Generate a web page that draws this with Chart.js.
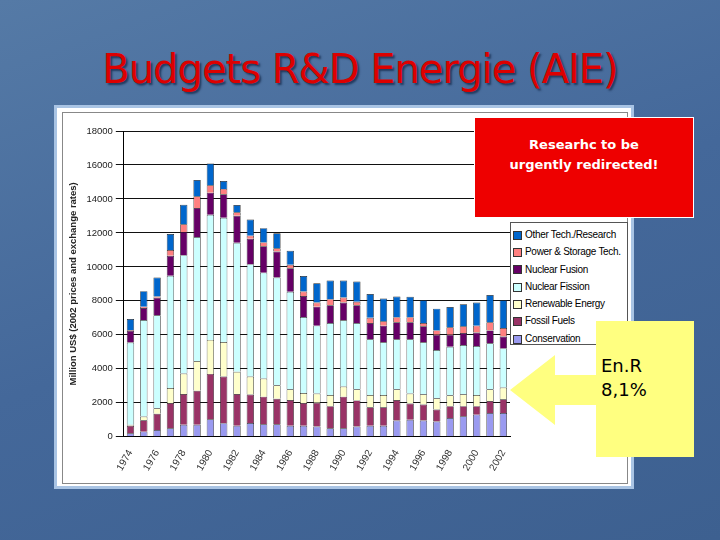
<!DOCTYPE html>
<html><head><meta charset="utf-8">
<script src="https://cdn.jsdelivr.net/npm/chart.js@4"></script>
<style>
body{margin:0;width:720px;height:540px;overflow:hidden;background:linear-gradient(160deg,#557aa6,#44689a 50%,#3d6090);font-family:"Liberation Sans",Arial,sans-serif;position:relative}
#title{position:absolute;left:0;width:720px;top:46px;text-align:center;color:#dd0000;font-family:"DejaVu Sans";font-size:40px;text-shadow:2px 2px 2px #223a5e;letter-spacing:-1px}
#panel{position:absolute;left:54px;top:105px;width:580px;height:384px;background:#fff;border:3px solid #a9c4e4;box-sizing:border-box}
#inner{position:absolute;left:62px;top:112px;width:566px;height:372px;border:1px solid #888;box-sizing:border-box}
#wrap{position:absolute;left:62px;top:112px;width:566px;height:372px}
#legend{position:absolute;left:510px;top:222px;width:118px;height:123px;border:1px solid #555;background:#fff;font-size:10px;box-sizing:border-box;padding:3px 2px}
#legend div{height:17.3px;line-height:17px;white-space:nowrap;letter-spacing:-0.3px}
#legend span{display:inline-block;width:7px;height:7px;border:1px solid #333;margin-right:3px;vertical-align:middle}
#red{position:absolute;left:474px;top:117px;width:220px;height:101px;background:#ee0000;border:1px solid #fff;box-sizing:border-box;color:#fff;font-family:"DejaVu Sans";font-weight:bold;font-size:13px;text-align:center;padding-top:17px;line-height:20px}
#yel{position:absolute;left:596px;top:321px;width:98px;height:136px;background:#ffff80;box-sizing:border-box;font-family:"DejaVu Sans";font-size:18px;padding:33px 0 0 5px;line-height:24px}
</style></head><body>
<div id="title">Budgets R&amp;D Energie (AIE)</div>
<div id="panel"></div>
<div id="inner"></div>
<div id="wrap"><canvas id="c"></canvas></div>
<div id="legend"></div>
<div id="red">Researhc to be<br>urgently redirected!</div>
<svg style="position:absolute;left:0;top:0" width="720" height="540"><polygon points="510,390 555,355 555,375 600,375 600,405 555,405 555,425" fill="#ffff80"/></svg>
<div id="yel">En.R<br>8,1%</div>
<script>
const years=[];for(let y=1974;y<=2002;y++)years.push(String(y));
const conservation=[200,300,400,500,700,700,1030,800,650,810,730,730,650,650,600,500,500,600,640,640,960,1000,960,900,1100,1200,1300,1400,1400];
const fossil=[450,670,950,1480,1810,2010,2670,2740,1860,1680,1630,1510,1510,1330,1400,1300,1860,1540,1100,1100,1200,960,940,700,700,600,500,700,800];
const renewable=[50,220,330,890,1210,1750,2000,2040,1310,1050,1070,790,630,590,540,660,600,660,720,720,640,580,600,660,640,700,660,700,700];
const fission=[4850,5680,5470,6610,6970,7300,7370,7310,7600,6620,6230,6340,5740,4480,4000,4240,3900,3900,3280,3100,2940,3200,3060,2840,2860,2900,2880,2700,2300];
const fusion=[690,710,1030,1170,1370,1700,1300,1390,1590,1500,1550,1540,1390,1230,1120,1040,1040,1040,960,980,1000,1000,940,900,700,700,800,760,700];
const power=[40,80,80,340,450,700,440,310,200,180,230,180,200,270,240,360,300,200,300,260,300,300,200,260,440,400,400,480,500];
const other=[650,910,1110,950,1150,950,1270,460,430,950,840,890,830,910,1140,1100,1000,1200,1400,1340,1220,1200,1340,1280,1200,1300,1360,1600,1640];
const series=[["Conservation",conservation,"#9a9af0"],["Fossil Fuels",fossil,"#993366"],["Renewable Energy",renewable,"#ffffcc"],["Nuclear Fission",fission,"#ccffff"],["Nuclear Fusion",fusion,"#660066"],["Power & Storage Tech.",power,"#ff8080"],["Other Tech./Research",other,"#0066cc"]];
new Chart(document.getElementById('c'),{type:'bar',
data:{labels:years,datasets:series.map(s=>({label:s[0],data:s[1],backgroundColor:s[2],borderColor:'#222',borderWidth:0.7,barPercentage:0.55,categoryPercentage:1}))},
options:{responsive:true,maintainAspectRatio:false,animation:false,
layout:{padding:{top:19,right:118,left:2,bottom:8}},
plugins:{legend:{display:false},tooltip:{enabled:false}},
scales:{x:{stacked:true,grid:{display:false},border:{color:'#000'},ticks:{autoSkip:false,maxRotation:60,minRotation:60,color:'#333',font:{size:10},callback:(v,i)=>i%2===0?years[i]:''}},
y:{stacked:true,min:0,max:18000,ticks:{stepSize:2000,color:'#222',font:{size:9.5},callback:v=>String(v)},grid:{color:'#111',lineWidth:1},border:{color:'#000'},
title:{display:true,text:'Million US$ (2002 prices and exchange rates)',color:'#222',font:{size:9.5,weight:'bold'}}}}}});
const lg=document.getElementById('legend');
series.slice().reverse().forEach(s=>{const d=document.createElement('div');d.innerHTML='<span style="background:'+s[2]+'"></span>'+s[0].replace('&','&amp;');lg.appendChild(d);});
</script></body></html>
